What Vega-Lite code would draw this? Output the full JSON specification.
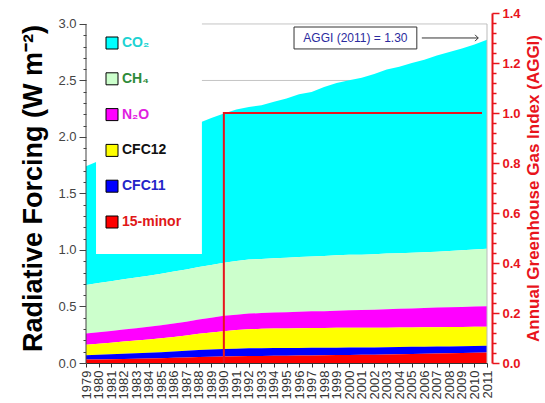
{
  "$schema": "https://vega.github.io/schema/vega-lite/v6.json",
  "width": 401,
  "height": 350,
  "autosize": {"type": "none"},
  "padding": {"left": 86, "top": 13, "right": 58, "bottom": 40},
  "background": "white",
  "config": {"font": "Liberation Sans", "view": {"stroke": null}},
  "resolve": {"scale": {"x": "independent", "y": "independent"}},
  "layer": [
    {
      "data": {"values": [{}]},
      "mark": {"type": "rule", "color": "#c4c4c4", "strokeWidth": 1},
      "encoding": {
        "x": {"datum": 1988, "type": "quantitative", "scale": {"domain": [1979, 2011], "nice": false, "zero": false}, "axis": null},
        "x2": {"datum": 2011},
        "y": {"datum": 2.5, "type": "quantitative", "scale": {"domain": [0, 3.097], "nice": false}, "axis": null}
      }
    },
    {
      "data": {"values": [{}]},
      "mark": {"type": "rule", "color": "#c4c4c4", "strokeWidth": 1},
      "encoding": {
        "x": {"datum": 1988, "type": "quantitative", "scale": {"domain": [1979, 2011], "nice": false, "zero": false}, "axis": null},
        "x2": {"datum": 2011},
        "y": {"datum": 3.0, "type": "quantitative", "scale": {"domain": [0, 3.097], "nice": false}, "axis": null}
      }
    },
    {
      "data": {"values": [
        {"year":1979,"CO2":1.05,"CH4":0.43,"N2O":0.1,"CFC12":0.092,"CFC11":0.039,"minor":0.03},
        {"year":1980,"CO2":1.08,"CH4":0.435,"N2O":0.101,"CFC12":0.097,"CFC11":0.042,"minor":0.032},
        {"year":1981,"CO2":1.1,"CH4":0.44,"N2O":0.104,"CFC12":0.102,"CFC11":0.044,"minor":0.034},
        {"year":1982,"CO2":1.115,"CH4":0.445,"N2O":0.107,"CFC12":0.108,"CFC11":0.046,"minor":0.036},
        {"year":1983,"CO2":1.14,"CH4":0.448,"N2O":0.109,"CFC12":0.113,"CFC11":0.048,"minor":0.038},
        {"year":1984,"CO2":1.165,"CH4":0.451,"N2O":0.112,"CFC12":0.118,"CFC11":0.05,"minor":0.04},
        {"year":1985,"CO2":1.19,"CH4":0.455,"N2O":0.115,"CFC12":0.123,"CFC11":0.053,"minor":0.043},
        {"year":1986,"CO2":1.21,"CH4":0.459,"N2O":0.119,"CFC12":0.129,"CFC11":0.056,"minor":0.046},
        {"year":1987,"CO2":1.24,"CH4":0.462,"N2O":0.121,"CFC12":0.136,"CFC11":0.059,"minor":0.049},
        {"year":1988,"CO2":1.275,"CH4":0.465,"N2O":0.125,"CFC12":0.145,"CFC11":0.062,"minor":0.052},
        {"year":1989,"CO2":1.3,"CH4":0.468,"N2O":0.13,"CFC12":0.151,"CFC11":0.064,"minor":0.055},
        {"year":1990,"CO2":1.32,"CH4":0.471,"N2O":0.135,"CFC12":0.158,"CFC11":0.066,"minor":0.058},
        {"year":1991,"CO2":1.34,"CH4":0.475,"N2O":0.137,"CFC12":0.164,"CFC11":0.067,"minor":0.06},
        {"year":1992,"CO2":1.35,"CH4":0.479,"N2O":0.139,"CFC12":0.168,"CFC11":0.068,"minor":0.062},
        {"year":1993,"CO2":1.36,"CH4":0.479,"N2O":0.14,"CFC12":0.171,"CFC11":0.068,"minor":0.063},
        {"year":1994,"CO2":1.385,"CH4":0.48,"N2O":0.141,"CFC12":0.173,"CFC11":0.068,"minor":0.064},
        {"year":1995,"CO2":1.41,"CH4":0.482,"N2O":0.143,"CFC12":0.174,"CFC11":0.067,"minor":0.065},
        {"year":1996,"CO2":1.44,"CH4":0.484,"N2O":0.146,"CFC12":0.175,"CFC11":0.067,"minor":0.066},
        {"year":1997,"CO2":1.455,"CH4":0.485,"N2O":0.148,"CFC12":0.175,"CFC11":0.067,"minor":0.067},
        {"year":1998,"CO2":1.495,"CH4":0.488,"N2O":0.149,"CFC12":0.175,"CFC11":0.067,"minor":0.068},
        {"year":1999,"CO2":1.525,"CH4":0.49,"N2O":0.152,"CFC12":0.175,"CFC11":0.066,"minor":0.07},
        {"year":2000,"CO2":1.545,"CH4":0.49,"N2O":0.155,"CFC12":0.175,"CFC11":0.066,"minor":0.071},
        {"year":2001,"CO2":1.565,"CH4":0.49,"N2O":0.157,"CFC12":0.174,"CFC11":0.065,"minor":0.072},
        {"year":2002,"CO2":1.595,"CH4":0.491,"N2O":0.16,"CFC12":0.174,"CFC11":0.064,"minor":0.074},
        {"year":2003,"CO2":1.63,"CH4":0.492,"N2O":0.163,"CFC12":0.173,"CFC11":0.064,"minor":0.076},
        {"year":2004,"CO2":1.65,"CH4":0.492,"N2O":0.165,"CFC12":0.173,"CFC11":0.063,"minor":0.078},
        {"year":2005,"CO2":1.68,"CH4":0.492,"N2O":0.168,"CFC12":0.172,"CFC11":0.063,"minor":0.08},
        {"year":2006,"CO2":1.705,"CH4":0.493,"N2O":0.17,"CFC12":0.172,"CFC11":0.062,"minor":0.082},
        {"year":2007,"CO2":1.735,"CH4":0.495,"N2O":0.173,"CFC12":0.171,"CFC11":0.062,"minor":0.084},
        {"year":2008,"CO2":1.76,"CH4":0.498,"N2O":0.175,"CFC12":0.171,"CFC11":0.061,"minor":0.086},
        {"year":2009,"CO2":1.785,"CH4":0.501,"N2O":0.177,"CFC12":0.17,"CFC11":0.061,"minor":0.088},
        {"year":2010,"CO2":1.815,"CH4":0.505,"N2O":0.179,"CFC12":0.17,"CFC11":0.06,"minor":0.09},
        {"year":2011,"CO2":1.85,"CH4":0.508,"N2O":0.181,"CFC12":0.169,"CFC11":0.06,"minor":0.092}
      ]},
      "transform": [
        {"fold": ["CO2","CH4","N2O","CFC12","CFC11","minor"], "as": ["gas","rf"]},
        {"lookup": "gas", "from": {"data": {"values": [
          {"gas":"minor","ord":1},{"gas":"CFC11","ord":2},{"gas":"CFC12","ord":3},
          {"gas":"N2O","ord":4},{"gas":"CH4","ord":5},{"gas":"CO2","ord":6}
        ]}, "key": "gas", "fields": ["ord"]}}
      ],
      "mark": {"type": "area", "opacity": 1, "interpolate": "linear"},
      "encoding": {
        "x": {"field": "year", "type": "quantitative",
          "scale": {"domain": [1979, 2011], "nice": false, "zero": false},
          "axis": {"orient": "bottom", "title": null, "values": [1979,1980,1981,1982,1983,1984,1985,1986,1987,1988,1989,1990,1991,1992,1993,1994,1995,1996,1997,1998,1999,2000,2001,2002,2003,2004,2005,2006,2007,2008,2009,2010,2011],
            "format": "d", "labelAngle": 270, "labelFontSize": 13, "labelColor": "#333", "labelOverlap": false, "labelBound": false,
            "labelPadding": 3, "tickSize": 4, "tickColor": "#333", "domainColor": "#333", "grid": false}},
        "y": {"field": "rf", "type": "quantitative", "stack": "zero",
          "scale": {"domain": [0, 3.097], "nice": false},
          "axis": {"orient": "left", "title": "Radiative Forcing (W m⁻²)", "titleFontSize": 27, "titleFontWeight": "bold", "titleColor": "black", "titlePadding": 10,
            "values": [0,0.1,0.2,0.3,0.4,0.5,0.6,0.7,0.8,0.9,1,1.1,1.2,1.3,1.4,1.5,1.6,1.7,1.8,1.9,2,2.1,2.2,2.3,2.4,2.5,2.6,2.7,2.8,2.9,3],
            "labelExpr": "abs(datum.value*2-round(datum.value*2))<0.01 ? format(datum.value,'.1f') : ''",
            "labelFontSize": 13, "labelColor": "#444", "labelPadding": 3, "labelOverlap": false, "labelBound": false,
            "domain": false, "tickColor": "#444",
            "tickSize": {"condition": {"test": "abs(datum.value*2-round(datum.value*2))<0.01", "value": 7}, "value": 3},
            "grid": false}},
        "color": {"field": "gas", "type": "nominal",
          "scale": {"domain": ["CO2","CH4","N2O","CFC12","CFC11","minor"], "range": ["#00ffff","#ccffcc","#ff00ff","#ffff00","#0000ff","#ff0000"]},
          "legend": {"orient": "none", "legendX": 19, "legendY": 23, "title": null, "padding": 0,
            "symbolType": "square", "symbolSize": 144, "symbolOpacity": 1, "symbolStrokeColor": "black", "symbolStrokeWidth": 1,
            "labelFontSize": 14, "labelFontWeight": "bold", "labelOffset": 3, "rowPadding": 19.8,
            "labelExpr": "datum.value==='CO2'?'CO₂':datum.value==='CH4'?'CH₄':datum.value==='N2O'?'N₂O':datum.value==='minor'?'15-minor':datum.label",
            "encode": {
              "labels": {"update": {"fill": {"signal": "datum.value==='CO2'?'#1ed2d2':datum.value==='CH4'?'#2e8b3a':datum.value==='N2O'?'#e01ee0':datum.value==='CFC12'?'#111111':datum.value==='CFC11'?'#2424c8':'#e01818'"}}},
              "symbols": {"update": {"stroke": {"value": "black"}, "strokeWidth": {"value": 1}}}
            }}},
        "order": {"field": "ord", "type": "quantitative"}
      }
    },
    {
      "data": {"values": [{}]},
      "mark": {"type": "rect", "fill": "white"},
      "encoding": {
        "x": {"datum": 1979.8, "type": "quantitative", "scale": {"domain": [1979, 2011], "nice": false, "zero": false}, "axis": null},
        "x2": {"datum": 1988.25},
        "y": {"datum": 0.965, "type": "quantitative", "scale": {"domain": [0, 3.097], "nice": false}, "axis": null},
        "y2": {"datum": 3.03}
      }
    },
    {
      "data": {"values": [{}]},
      "mark": {"type": "rule", "color": "#bbbbbb", "strokeWidth": 1},
      "encoding": {
        "x": {"datum": 2011, "type": "quantitative", "scale": {"domain": [1979, 2011], "nice": false, "zero": false}, "axis": null},
        "y": {"datum": 0, "type": "quantitative", "scale": {"domain": [0, 3.097], "nice": false}, "axis": null},
        "y2": {"datum": 3}
      }
    },
    {
      "data": {"values": [{}]},
      "mark": {"type": "rule", "color": "#444444", "strokeWidth": 1},
      "encoding": {
        "x": {"datum": 1979, "type": "quantitative", "scale": {"domain": [1979, 2011], "nice": false, "zero": false}, "axis": null},
        "y": {"datum": 0, "type": "quantitative", "scale": {"domain": [0, 3.097], "nice": false}, "axis": null},
        "y2": {"datum": 3}
      }
    },
    {
      "data": {"values": [{}]},
      "mark": {"type": "rect", "fill": "white", "stroke": "#333333", "strokeWidth": 1},
      "encoding": {
        "x": {"datum": 1995.6, "type": "quantitative", "scale": {"domain": [1979, 2011], "nice": false, "zero": false}, "axis": null},
        "x2": {"datum": 2005.4},
        "y": {"datum": 2.779, "type": "quantitative", "scale": {"domain": [0, 3.097], "nice": false}, "axis": null},
        "y2": {"datum": 2.973}
      }
    },
    {
      "data": {"values": [{}]},
      "mark": {"type": "text", "fontSize": 12, "color": "#2b2b9e", "align": "center", "baseline": "middle"},
      "encoding": {
        "x": {"datum": 2000.5, "type": "quantitative", "scale": {"domain": [1979, 2011], "nice": false, "zero": false}, "axis": null},
        "y": {"datum": 2.876, "type": "quantitative", "scale": {"domain": [0, 3.097], "nice": false}, "axis": null},
        "text": {"value": "AGGI (2011) = 1.30"}
      }
    },
    {
      "data": {"values": [{}]},
      "mark": {"type": "rule", "color": "#333333", "strokeWidth": 1},
      "encoding": {
        "x": {"datum": 2005.8, "type": "quantitative", "scale": {"domain": [1979, 2011], "nice": false, "zero": false}, "axis": null},
        "x2": {"datum": 2010.3},
        "y": {"datum": 2.876, "type": "quantitative", "scale": {"domain": [0, 3.097], "nice": false}, "axis": null}
      }
    },
    {
      "data": {"values": [{}]},
      "mark": {"type": "point", "shape": "M-1,-1L0,0L-1,1", "filled": false, "stroke": "#333333", "strokeWidth": 1, "size": 40, "opacity": 1},
      "encoding": {
        "x": {"datum": 2010.3, "type": "quantitative", "scale": {"domain": [1979, 2011], "nice": false, "zero": false}, "axis": null},
        "y": {"datum": 2.876, "type": "quantitative", "scale": {"domain": [0, 3.097], "nice": false}, "axis": null}
      }
    },
    {
      "data": {"values": [
        {"year": 1990, "aggi": 0, "o": 1},
        {"year": 1990, "aggi": 1, "o": 2},
        {"year": 2010.6, "aggi": 1, "o": 3}
      ]},
      "mark": {"type": "line", "color": "#e8141c", "strokeWidth": 2},
      "encoding": {
        "x": {"field": "year", "type": "quantitative", "scale": {"domain": [1979, 2011], "nice": false, "zero": false}, "axis": null},
        "y": {"field": "aggi", "type": "quantitative",
          "scale": {"domain": [0, 1.4], "nice": false},
          "axis": {"orient": "right", "offset": 5, "title": "Annual Greenhouse Gas Index (AGGI)",
            "titleColor": "#e8141c", "titleFontSize": 17, "titleFontWeight": "bold", "titleAngle": 270, "titleBaseline": "top", "titlePadding": 5,
            "values": [0,0.04,0.08,0.12,0.16,0.2,0.24,0.28,0.32,0.36,0.4,0.44,0.48,0.52,0.56,0.6,0.64,0.68,0.72,0.76,0.8,0.84,0.88,0.92,0.96,1,1.04,1.08,1.12,1.16,1.2,1.24,1.28,1.32,1.36,1.4],
            "labelExpr": "abs(datum.value*5-round(datum.value*5))<0.001 ? format(datum.value,'.1f') : ''",
            "labelColor": "#e8141c", "labelFontSize": 13, "labelFontWeight": "bold", "labelPadding": 3, "labelOverlap": false,
            "domainColor": "#e8141c", "domainWidth": 2, "tickColor": "#e8141c", "tickWidth": 1.5,
            "tickSize": {"condition": {"test": "abs(datum.value*5-round(datum.value*5))<0.001", "value": 7}, "value": 4},
            "grid": false}},
        "order": {"field": "o", "type": "quantitative"}
      }
    }
  ]
}
